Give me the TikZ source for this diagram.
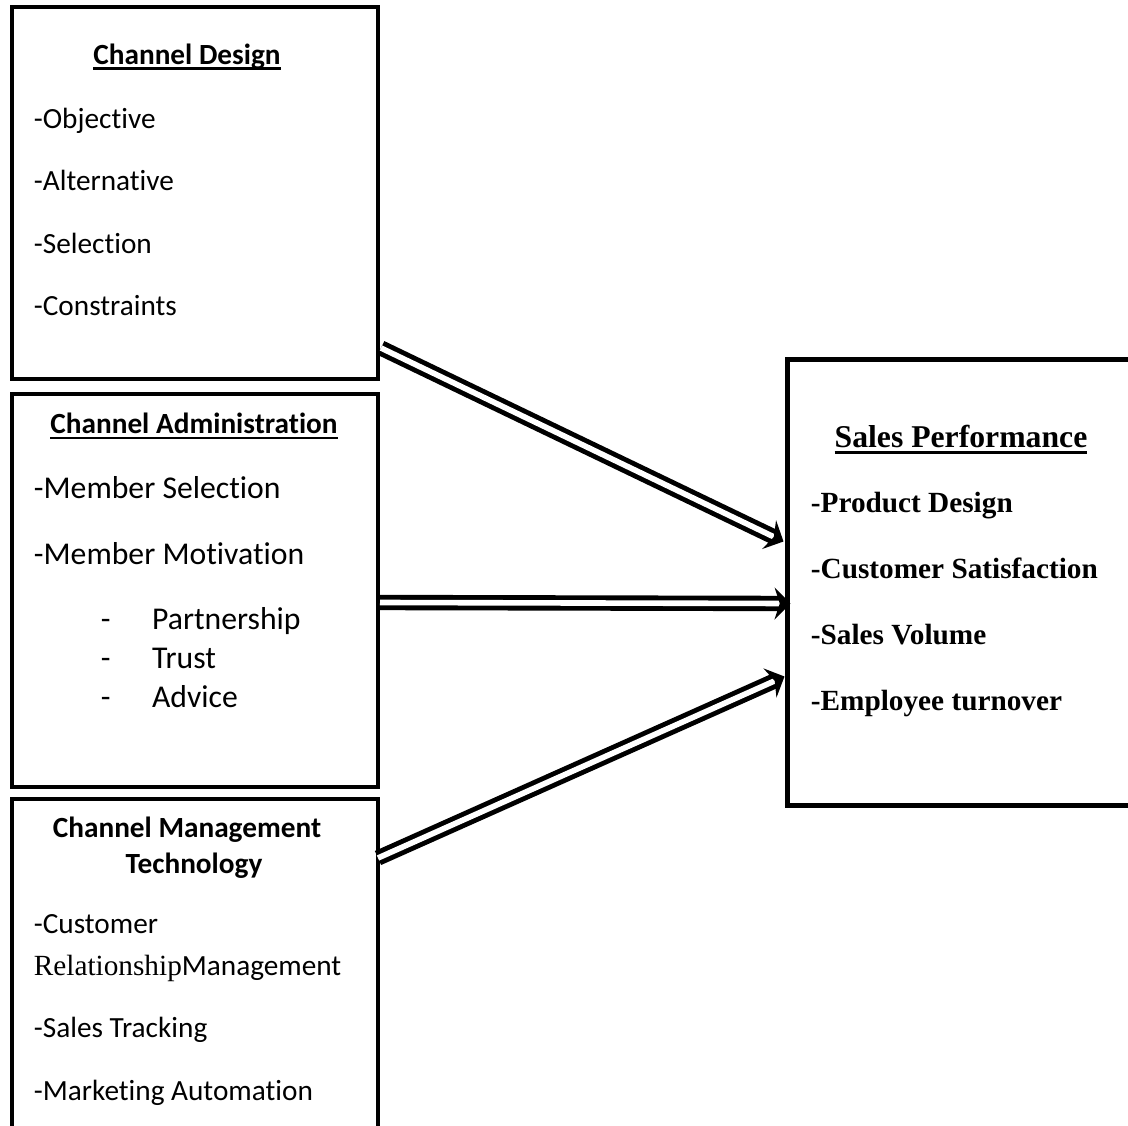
\documentclass[tikz,border=0pt]{standalone}
\usepackage{fontspec}
\setmainfont{Carlito}[Ligatures=CommonOff]
\newfontfamily\timesfont{Liberation Serif}
\usetikzlibrary{arrows.meta,fit,calc}

\newlength\ulwidth
\newcommand\ulined[3]{\settowidth\ulwidth{#3}\rlap{\rule[-#1]{\ulwidth}{#2}}#3}

\tikzset{every picture/.style={line width=0.75pt}}

\begin{document}
\begin{tikzpicture}[x=0.41pt,y=0.41pt,yscale=-1,xscale=1,
  box/.style={draw, line width=1.85pt, inner sep=0pt, outer sep=0pt},
  title/.style={anchor=base, inner sep=0pt, font=\bfseries\fontsize{12}{14}\selectfont},
  item/.style={anchor=base west, inner sep=0pt, font=\fontsize{12}{14}\selectfont},
  bigitem/.style={anchor=base west, inner sep=0pt, font=\fontsize{13}{15}\selectfont},
  perfitem/.style={anchor=base west, inner sep=0pt, font=\timesfont\bfseries\fontsize{12}{14}\selectfont},
  link/.style={double, double distance=2.3pt, line width=2pt, -{Stealth[length=6.5pt,width=13pt]}}]
\useasboundingbox (0,0) rectangle (1128,1126);
\clip (0,0) rectangle (1128,1126);

% Boxes
\node [box, fit={(12,7) (378,379)}] (design) {};
\node [box, fit={(12,394) (378,787)}] (admin) {};
\node [box, fit={(12,799) (378,1140)}] (tech) {};
\node [box, fit={(787.5,359.5) (1140,805.5)}] (perf) {};

% Channel Design
\node [title] (d-title) at (187,64) {\ulined{2.3pt}{0.95pt}{Channel Design}};
\node [item] (d-obj) at (33,128) {-Objective};
\node [item] (d-alt) at (33,190) {-Alternative};
\node [item] (d-sel) at (33,253) {-Selection};
\node [item] (d-con) at (33,315) {-Constraints};

% Channel Administration
\node [title] (a-title) at (194,433) {\ulined{2.6pt}{0.95pt}{Channel Administration}};
\node [bigitem] (a-msel) at (33,498) {-Member Selection};
\node [bigitem] (a-mmot) at (33,564) {-Member Motivation};
\node [bigitem] (a-part) at (100,629) {-\hspace{17pt}Partnership};
\node [bigitem] (a-trust) at (100,668) {-\hspace{17pt}Trust};
\node [bigitem] (a-adv) at (100,707) {-\hspace{17pt}Advice};

% Channel Management Technology
\node [title] (t-title) at (187,837) {Channel Management};
\node [title] (t-title2) at (194,873) {Technology};
\node [item] (t-crm) at (33,933) {-Customer};
\node [item] (t-crm2) at (33,975) {{\timesfont Relationship}Management};
\node [item] (t-track) at (33,1037) {-Sales Tracking};
\node [item] (t-auto) at (33,1100) {-Marketing Automation};

% Sales Performance
\node [anchor=base, inner sep=0pt, font=\timesfont\bfseries\fontsize{13}{15}\selectfont] (p-title) at (961,447) {\ulined{2.75pt}{1.2pt}{Sales Performance}};
\node [perfitem] (p-prod) at (810,512) {-Product Design};
\node [perfitem] (p-cust) at (810,578) {-Customer Satisfaction};
\node [perfitem] (p-vol) at (810,644) {-Sales Volume};
\node [perfitem] (p-emp) at (810,710) {-Employee turnover};

% Arrows
\draw [link] ($(design.south east)+(3,-31)$) -- ($(perf.west)+(-4,-41)$);
\draw [link] ($(admin.east)+(2,12)$) -- ($(perf.west)+(3,21)$);
\draw [link] ($(tech.north east)+(0,59)$) -- ($(perf.west)+(-3,94)$);

\end{tikzpicture}
\end{document}
